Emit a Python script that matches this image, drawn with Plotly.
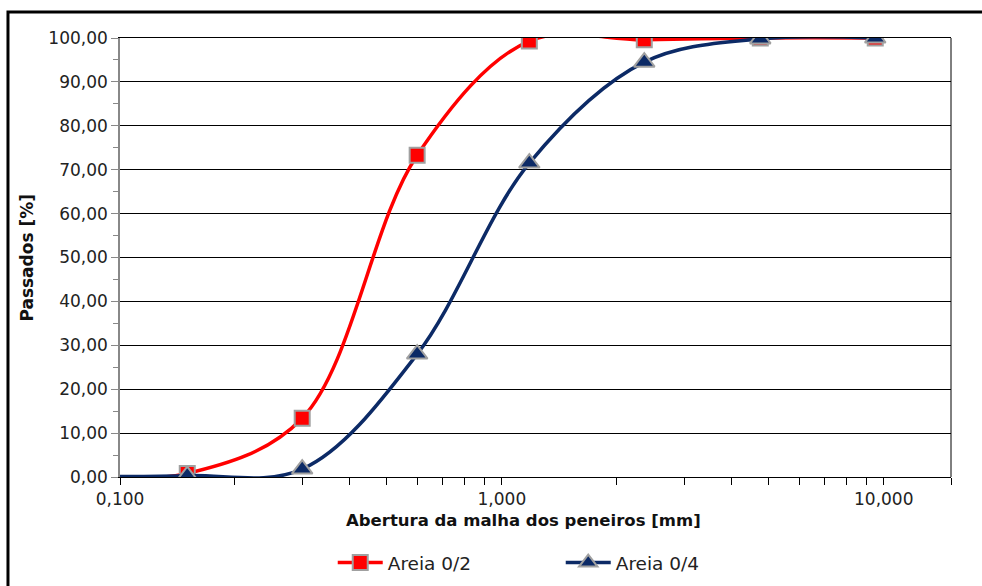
import plotly.graph_objects as go
import math

# ---- data ----
sieve_mm = [0.075, 0.15, 0.3, 0.6, 1.18, 2.36, 4.75, 9.5]
areia_02 = [0.2, 0.8, 13.4, 73.3, 99.3, 99.6, 100.0, 100.0]
areia_04 = [0.2, 0.3, 1.8, 28.0, 71.5, 94.5, 99.8, 100.0]
series_names = ["Areia 0/2", "Areia 0/4"]

y_ticks = [0, 10, 20, 30, 40, 50, 60, 70, 80, 90, 100]
y_ticklabels = ["0,00", "10,00", "20,00", "30,00", "40,00", "50,00",
                "60,00", "70,00", "80,00", "90,00", "100,00"]
x_major = [0.1, 1.0, 10.0]
x_major_labels = ["0,100", "1,000", "10,000"]
x_minor = [0.2, 0.3, 0.4, 0.5, 0.6, 0.7, 0.8, 0.9,
           2, 3, 4, 5, 6, 7, 8, 9, 15]
x_title = "Abertura da malha dos peneiros [mm]"
y_title = "Passados [%]"

FONT = "DejaVu Sans"
RED = "#FF0000"
NAVY = "#0C2A66"
GREY = "#A0A0A0"

fig = go.Figure()
fig.add_trace(go.Scatter(
    x=sieve_mm, y=areia_02, name=series_names[0], mode="lines+markers",
    line=dict(color=RED, width=3.5, shape="spline", smoothing=1.0),
    marker=dict(symbol="square", size=15, color=RED,
                line=dict(color=GREY, width=2)),
))
fig.add_trace(go.Scatter(
    x=sieve_mm, y=areia_04, name=series_names[1], mode="lines+markers",
    line=dict(color=NAVY, width=3.5, shape="spline", smoothing=1.0),
    marker=dict(symbol="triangle-up", size=18, color=NAVY,
                line=dict(color=GREY, width=2)),
))

tickvals_x = x_major + x_minor
ticktext_x = x_major_labels + [""] * len(x_minor)

fig.update_xaxes(
    type="log", range=[math.log10(0.1), math.log10(15)],
    tickvals=tickvals_x, ticktext=ticktext_x,
    ticks="outside", ticklen=7, tickcolor="black", tickwidth=1,
    showline=True, linecolor="black", linewidth=1, mirror=True,
    showgrid=False, zeroline=False,
    tickfont=dict(family=FONT, size=17, color="#222"),
)
fig.update_yaxes(
    range=[0, 100], tickvals=y_ticks, ticktext=y_ticklabels,
    ticks="outside", ticklen=7, tickcolor="#888", tickwidth=1,
    minor=dict(dtick=5, ticks="outside", ticklen=5, tickcolor="#888", showgrid=False),
    showline=True, linecolor="#888", linewidth=1.5,
    showgrid=True, gridcolor="black", gridwidth=1, zeroline=False,
    tickfont=dict(family=FONT, size=17, color="#222"),
)

fig.update_layout(
    width=982, height=586,
    margin=dict(l=120, r=31, t=38, b=109, autoexpand=False),
    paper_bgcolor="white", plot_bgcolor="white",
    showlegend=True,
    legend=dict(orientation="h", x=0.256, y=-0.196, xanchor="left", yanchor="middle",
                font=dict(family=FONT, size=18.5, color="#222"),
                itemwidth=45,
                entrywidth=168, entrywidthmode="pixels", bgcolor="rgba(0,0,0,0)"),
    annotations=[
        dict(text=y_title, xref="paper", yref="paper", x=-0.113, y=0.5,
             textangle=-90, showarrow=False, xanchor="center", yanchor="middle",
             font=dict(family=FONT, size=17, color="#111", weight="bold")),
        dict(text=x_title, xref="paper", yref="paper", x=0.486, y=-0.1,
             showarrow=False, xanchor="center", yanchor="middle",
             font=dict(family=FONT, size=16.5, color="#111", weight="bold")),
    ],
    shapes=[
        dict(type="line", xref="paper", yref="paper", x0=1, x1=1, y0=0, y1=1,
             line=dict(color="black", width=1)),
        dict(type="rect", xref="paper", yref="paper",
             x0=-0.1348, x1=1.05, y0=-0.29, y1=1.0592,
             line=dict(color="black", width=3), layer="above"),
    ],
)

fig.write_html("out.html")
